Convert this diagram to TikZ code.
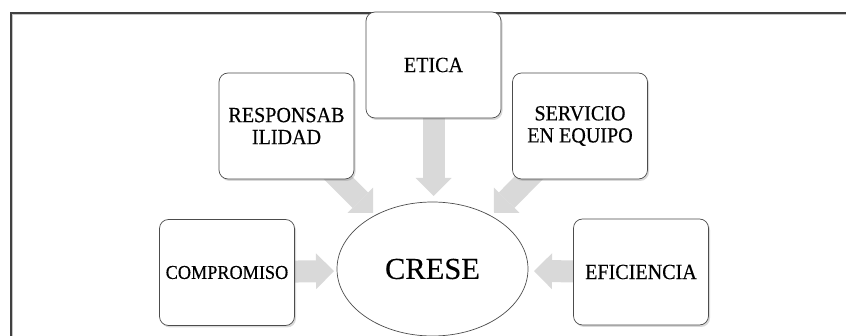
\documentclass[tikz,border=0pt]{standalone}
\usepackage{fontspec}
\setmainfont{Liberation Serif}[FakeStretch=0.93, FakeBold=0.3]
\newfontfamily\hubfont{Liberation Serif}[FakeBold=0.3]
\usetikzlibrary{shapes.geometric,shadows,arrows.meta,backgrounds}
\begin{document}
\begin{tikzpicture}[x=1pt,y=-1pt,
  card/.style={draw=gray!60!black, line width=0.7pt, fill=white,
    rounded corners=9pt, minimum width=135pt, minimum height=106pt,
    inner sep=2pt, align=center, font=\fontsize{21.6}{22}\selectfont,
    drop shadow={shadow xshift=1.5pt, shadow yshift=-2pt, opacity=0.3}},
  hub/.style={ellipse, draw=gray!60!black, line width=0.7pt, fill=white,
    minimum width=191pt, minimum height=134pt, inner sep=0pt,
    font=\hubfont\fontsize{30.5}{32}\selectfont},
  flow/.style={line width=22pt, draw=gray!30,
    -{Triangle[width=36pt,length=18pt,line width=0pt]}},
  frameline/.style={line width=1.5pt, draw=black!75}
]
\useasboundingbox (0,0) rectangle (846,336);
\clip (0,0) rectangle (846,336);

% outer boxes and the central ellipse
\node[card] (etica) at (433.5,65) {ETICA};
\node[card] (resp) at (286.5,126) {RESPONSAB\\ILIDAD};
\node[card] (serv) at (580,126) {SERVICIO\\EN EQUIPO};
\node[card, font=\fontsize{19.6}{20}\selectfont] (comp) at (227,272.5) {COMPROMISO};
\node[card] (efic) at (641,272) {EFICIENCIA};
\node[hub] (crese) at (432.5,269) {CRESE};

% arrow tips, just outside the ellipse
\coordinate (tipE) at (433.5,196);
\coordinate (tipR) at (373,213);
\coordinate (tipS) at (494,213);
\coordinate (tipC) at (334,271);
\coordinate (tipF) at (534,271);

\begin{pgfonlayer}{background}
  % page frame with its soft edge
  \draw[line width=1.2pt, gray!45] (12.5,340) -- (12.5,14.5) -- (846,14.5);
  \draw[frameline] (11,340) -- (11,13) -- (846,13);
  % block arrows toward the centre
  \draw[flow] (etica.center) -- (tipE);
  \draw[flow] (resp.center) -- (tipR);
  \draw[flow] (serv.center) -- (tipS);
  \draw[flow] (comp.center) -- (tipC);
  \draw[flow] (efic.center) -- (tipF);
\end{pgfonlayer}
\end{tikzpicture}
\end{document}
